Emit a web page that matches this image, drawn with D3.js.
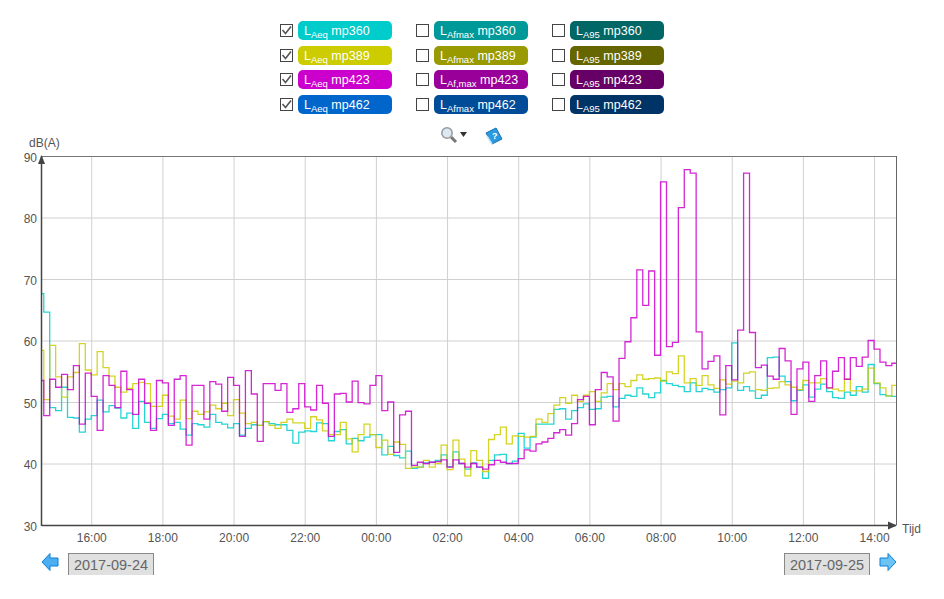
<!DOCTYPE html>
<html>
<head>
<meta charset="utf-8">
<script src="https://cdnjs.cloudflare.com/ajax/libs/d3/7.8.5/d3.min.js"></script>
<style>
body { margin: 0; background: #fff; }
text { font-family: "Liberation Sans", Arial, sans-serif; }
.axis path { display: none; }
.axis line { stroke: #d0d0d0; }
.axis text { fill: #555; font-size: 12px; }
</style>
</head>
<body>
<script>
// 10 minute values, dB(A). First and last step are cut off by the window
var mp360 = [67.6,64.6,49.1,48.6,52.4,47.5,47.4,45.1,47.2,47.8,50.3,48.4,49.4,49.0,47.4,48.2,45.7,50.1,46.7,45.7,47.3,48.0,46.5,46.7,45.6,44.6,46.5,46.3,45.9,48.0,46.7,46.4,45.8,46.5,44.6,45.7,
    46.3,46.2,46.8,46.5,46.3,46.3,45.4,43.3,45.1,45.3,45.2,46.6,46.5,43.7,45.2,45.5,43.2,44.1,43.7,44.3,44.7,44.7,41.4,42.8,41.3,40.9,42.0,39.2,39.4,40.1,40.2,40.5,41.4,39.5,41.9,
    40.0,39.1,40.1,39.4,37.6,40.5,41.4,41.5,40.0,40.4,44.9,42.5,44.3,46.4,46.4,46.4,48.8,48.9,47.2,48.6,49.1,49.7,48.8,48.9,50.8,50.9,49.2,
    50.6,51.1,50.9,52.3,51.3,50.7,51.5,53.5,53.0,52.7,52.5,51.7,53.1,51.7,52.2,52.0,51.6,52.0,52.3,59.6,51.9,52.5,51.8,50.6,51.1,57.2,
    57.3,54.2,53.3,50.2,51.9,52.8,50.8,52.1,52.9,51.7,50.7,50.6,51.6,51.1,52.5,51.6,56.1,53.0,51.2,51.0,50.9];
var mp389 = [58.4,50.4,59.2,54.1,50.8,54.1,54.8,59.5,55.2,54.4,58.2,55.6,54.2,52.4,51.6,52.2,53.0,53.2,53.0,49.3,49.3,51.1,47.7,47.2,50.3,47.3,48.5,48.0,48.4,49.5,48.9,49.8,47.8,50.4,48.2,46.5,
    46.7,46.2,46.8,46.2,45.7,46.7,47.2,46.6,46.6,45.7,47.6,47.1,45.3,44.7,44.7,46.7,44.0,41.9,44.7,46.4,44.7,42.6,43.8,41.5,43.5,43.1,39.2,39.4,39.4,40.5,39.4,40.0,43.0,39.0,43.8,
    40.7,38.0,42.1,40.5,38.7,43.9,44.7,45.9,43.2,44.5,44.4,44.3,44.4,47.2,46.7,48.1,49.5,50.7,49.8,51.1,50.1,51.1,51.7,50.1,51.5,53.0,52.0,
    53.0,52.5,53.5,54.4,53.7,53.8,53.9,53.4,54.9,54.6,57.5,53.1,53.8,52.7,54.3,52.8,52.2,53.6,52.9,53.4,53.1,54.7,54.9,52.0,51.9,52.2,
    52.3,53.3,52.8,52.4,52.0,53.5,53.1,53.1,53.8,52.3,52.1,51.8,53.7,51.8,51.8,52.1,55.5,53.1,52.3,51.0,52.7];
var mp423 = [53.5,47.8,53.7,52.4,54.5,52.0,55.9,46.4,54.7,50.9,45.4,54.3,52.7,49.1,55.0,52.0,48.0,53.7,49.8,45.4,53.5,53.1,46.2,53.7,54.3,43.0,52.7,52.7,47.2,53.3,52.9,48.5,54.0,52.7,44.4,55.1,
    51.3,43.6,53.0,53.0,51.9,53.0,48.3,48.9,53.0,49.2,48.7,52.7,49.8,44.4,51.3,51.4,50.0,53.4,49.9,49.7,52.7,54.3,48.6,50.0,41.8,47.9,48.5,39.7,40.2,40.0,40.2,40.3,40.6,39.4,40.6,
    40.0,39.4,40.0,39.4,39.1,39.8,40.5,40.2,40.0,40.0,40.8,42.2,42.0,43.2,43.5,44.1,45.0,45.5,44.6,46.5,50.4,50.9,46.3,52.0,54.8,54.1,46.9,
    57.1,59.8,63.7,71.5,65.7,71.3,57.6,85.8,59.0,59.7,81.6,87.8,87.2,61.4,55.4,56.6,57.5,47.9,55.9,53.6,61.7,87.2,61.3,55.6,56.0,54.2,
    53.7,58.7,56.7,48.0,55.4,56.5,50.1,54.3,56.7,52.3,55.0,57.2,53.7,57.2,55.8,57.3,60.0,58.6,56.5,55.9,56.3];
var mp462 = []; // ticked in the legend but no line in the picture

var stations = ["mp360", "mp389", "mp423", "mp462"];
var seriesValues = [mp360, mp389, mp423, mp462];
var measures = ["Aeq", "Afmax", "A95"];
var lineColors = ["#00cccc", "#cccc00", "#cc00cc", "#0066cc"];
var pillColors = [
    ["#00cccc", "#cccc00", "#cc00cc", "#0066cc"],
    ["#009999", "#999900", "#990099", "#004c99"],
    ["#006666", "#666600", "#660066", "#003366"]
];
var yTicks = [30, 40, 50, 60, 70, 80, 90];
var dates = ["2017-09-24", "2017-09-25"];

var svg = d3.select("body").append("svg")
    .attr("width", 944)
    .attr("height", 599)
    .style("display", "block");

// Chart area
var left = 42, right = 896, top_ = 156, bottom = 525;

var tStart = new Date(2017, 8, 24, 14, 37);
var tFirstStep = new Date(2017, 8, 24, 14, 40);
var tEnd = new Date(2017, 8, 25, 14, 37);

var xScale = d3.scaleTime().domain([tStart, tEnd]).range([left, right]);
var yScale = d3.scaleLinear().domain([30, 90]).range([bottom, top_]);

// Step i starts at 14:40 + (i-1)*10 min, step 0 is already running at the left edge
function stepTime(i) {
    if (i == 0) return tStart;
    return d3.timeMinute.offset(tFirstStep, (i - 1) * 10);
}

var xAxis = d3.axisBottom(xScale)
    .ticks(d3.timeHour.every(2))
    .tickFormat(d3.timeFormat("%H:%M"))
    .tickSize(-(bottom - top_))
    .tickPadding(8);
var yAxis = d3.axisLeft(yScale)
    .tickValues(yTicks)
    .tickSize(-(right - left))
    .tickPadding(5);

svg.append("g").attr("class", "axis")
    .attr("transform", "translate(0," + bottom + ")")
    .call(xAxis);
svg.append("g").attr("class", "axis")
    .attr("transform", "translate(" + left + ",0)")
    .call(yAxis)
    .selectAll("text").attr("dy", ".42em");

// Frame
svg.append("line").attr("x1", left).attr("x2", right).attr("y1", top_ + 0.5).attr("y2", top_ + 0.5).style("stroke", "#777");
svg.append("line").attr("x1", right + 0.5).attr("x2", right + 0.5).attr("y1", top_).attr("y2", bottom).style("stroke", "#666");

// Lines
var line = d3.line()
    .x(function(d) { return xScale(d[0]); })
    .y(function(d) { return yScale(d[1]); })
    .curve(d3.curveStepAfter);

var chart = svg.append("g");
seriesValues.forEach(function(values, s) {
    if (values.length == 0) return;
    var pts = values.map(function(v, i) { return [stepTime(i), v]; });
    pts.push([tEnd, values[values.length - 1]]);
    chart.append("path")
        .attr("d", line(pts))
        .style("fill", "none")
        .style("stroke", lineColors[s])
        .style("stroke-width", 1.3)
        .style("stroke-opacity", 0.85);
});

// Axis lines with arrow heads
svg.append("line").attr("x1", left - 0.5).attr("x2", left - 0.5).attr("y1", top_).attr("y2", bottom + 1).style("stroke", "#444").style("stroke-width", 1.5);
svg.append("line").attr("x1", left).attr("x2", right).attr("y1", bottom + 0.5).attr("y2", bottom + 0.5).style("stroke", "#444").style("stroke-width", 1.5);
svg.append("path").attr("d", "M38,164L41.5,155L45,164Z").style("fill", "#444");
svg.append("path").attr("d", "M888,521.5L897,525.5L888,529.5Z").style("fill", "#444");
svg.append("text").attr("x", 29).attr("y", 147).style("font-size", "12px").style("fill", "#555").text("dB(A)");
svg.append("text").attr("x", 902).attr("y", 533).style("font-size", "12px").style("fill", "#555").text("Tijd");

// Legend
var colX = [280, 416, 552], rowY = [21, 46, 70, 95];
measures.forEach(function(m, c) {
    stations.forEach(function(st, r) {
        var g = svg.append("g").attr("transform", "translate(" + colX[c] + "," + rowY[r] + ")");
        g.append("rect")
            .attr("x", 0.5).attr("y", 3.5).attr("width", 12).attr("height", 12)
            .style("fill", "#fff").style("stroke", "#444");
        if (c == 0) {
            g.append("path").attr("d", "M2.5,9L5.5,12.5L11,5.5")
                .style("fill", "none").style("stroke", "#555").style("stroke-width", 1.6);
        }
        g.append("rect")
            .attr("x", 18).attr("y", 0).attr("width", 94).attr("height", 19).attr("rx", 5)
            .style("fill", pillColors[c][r]);
        var sub = (m == "Afmax" && st == "mp423") ? "Af,max" : m;
        var t = g.append("text").attr("x", 24).attr("y", 14)
            .style("font-size", "12.5px").style("fill", "#fff");
        t.append("tspan").text("L");
        t.append("tspan").attr("dy", 3).style("font-size", "9.5px").text(sub);
        t.append("tspan").attr("dy", -3).attr("dx", 3.5).text(st);
    });
});

// Zoom and help icons
var lens = svg.append("g");
lens.append("line").attr("x1", 451).attr("y1", 137).attr("x2", 456).attr("y2", 142).style("stroke", "#777").style("stroke-width", 3);
lens.append("circle").attr("cx", 447).attr("cy", 133).attr("r", 5.2).style("fill", "#dbe9f4").style("stroke", "#999").style("stroke-width", 1.5);
svg.append("path").attr("d", "M460,132L467,132L463.5,137Z").style("fill", "#333");
var book = svg.append("g");
book.append("path").attr("d", "M486,133L496,128L502,139L492,144Z").style("fill", "#2a9be0").style("stroke", "#1270b4");
book.append("path").attr("d", "M487,136L492,144").style("stroke", "#bfe3f7").style("stroke-width", 1.5);
book.append("text").attr("x", 492).attr("y", 139).style("font-size", "9px").style("font-weight", "bold").style("fill", "#fff").text("?");

// Date navigation
function arrow(x, dir) {
    // dir 1 points right, -1 points left
    var p = [[0, -4], [8, -4], [8, -8.5], [16, 0], [8, 8.5], [8, 4], [0, 4]].map(function(q) {
        return [x + dir * q[0], 562 + q[1]];
    });
    svg.append("path").attr("d", "M" + p.join("L") + "Z")
        .style("fill", dir > 0 ? "#6cc4f5" : "#4aaef0").style("stroke", "#0b7fd8").style("stroke-width", 1);
}
arrow(58, -1);
arrow(880, 1);

[68, 784].forEach(function(x, i) {
    svg.append("rect").attr("x", x + 0.5).attr("y", 553.5).attr("width", 85).attr("height", 23)
        .style("fill", "#e0e0e0").style("stroke", "#888");
    svg.append("text").attr("x", x + 43).attr("y", 570)
        .attr("text-anchor", "middle")
        .style("font-size", "14.5px").style("fill", "#666")
        .text(dates[i]);
});
svg.append("rect").attr("x", 60).attr("y", 575).attr("width", 820).attr("height", 6).style("fill", "#fff");
</script>
</body>
</html>
